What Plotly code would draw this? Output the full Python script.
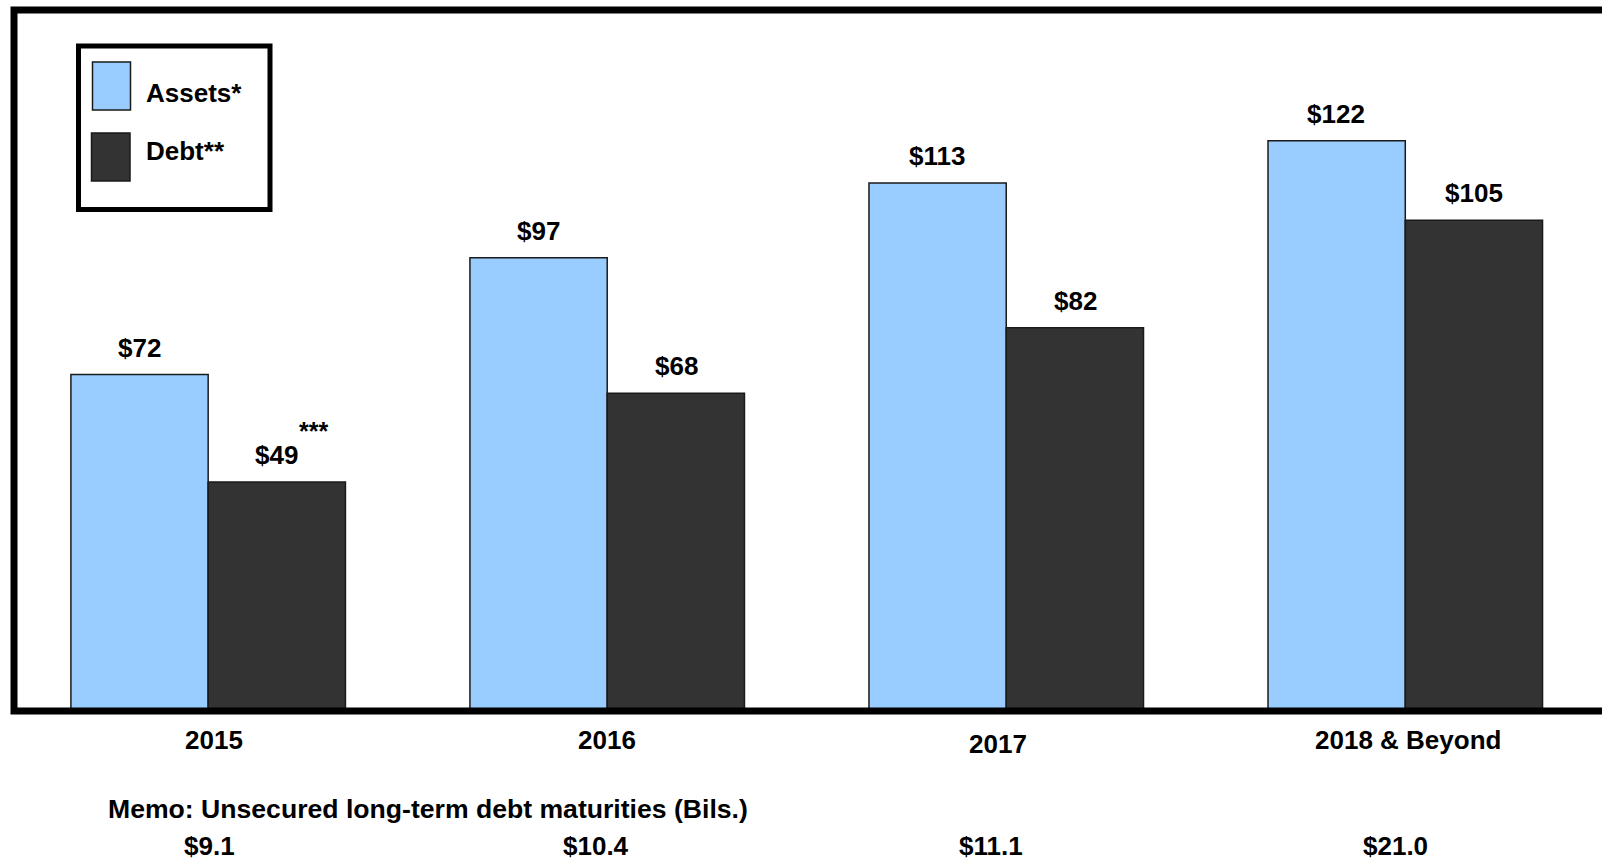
import plotly.graph_objects as go

categories = ["2015", "2016", "2017", "2018 & Beyond"]
assets = [72, 97, 113, 122]
debt = [49, 68, 82, 105]
asset_labels = ["$72", "$97", "$113", "$122"]
debt_labels = ["$49", "$68", "$82", "$105"]
memo_title = "Memo: Unsecured long-term debt maturities (Bils.)"
memo_values = ["$9.1", "$10.4", "$11.1", "$21.0"]
asset_name = "Assets*"
debt_name = "Debt**"
footnote_mark = "***"

ASSET_COLOR = "#99CCFF"
DEBT_COLOR = "#333333"
FONT = "Liberation Sans, Arial, sans-serif"

W, H = 1602, 860
ML, MR, MT, MB = 14, 0, 10, 149
PW = W - ML - MR
PH = H - MT - MB

# small per-category label nudges (pixels), layout only
cat_dx = [6, 0, -8, 3]
cat_dy = [0, 0, -4, 0]
memo_dx = [1, -11, -15, -10]


def px(x):
    return (x - ML) / PW


def py(y):
    return (H - MB - y) / PH


fig = go.Figure()
fig.add_trace(go.Bar(x=categories, y=assets, name=asset_name,
                     marker=dict(color=ASSET_COLOR, line=dict(color="#1a1a1a", width=1.5))))
fig.add_trace(go.Bar(x=categories, y=debt, name=debt_name,
                     marker=dict(color=DEBT_COLOR, line=dict(color="#1a1a1a", width=1.5))))

bold = dict(size=26, color="black", family=FONT, weight="bold")
annotations = []
bar_px = 68.8  # half group offset in pixels
for i, c in enumerate(categories):
    annotations.append(dict(x=i, y=assets[i], xref="x", yref="y", text=asset_labels[i],
                            showarrow=False, xshift=-bar_px, yshift=27, yanchor="middle", font=bold))
    annotations.append(dict(x=i, y=debt[i], xref="x", yref="y", text=debt_labels[i],
                            showarrow=False, xshift=bar_px, yshift=27, yanchor="middle", font=bold))
    annotations.append(dict(x=i, y=0, xref="x", yref="paper", text=c,
                            showarrow=False, xshift=cat_dx[i], yshift=-29 + cat_dy[i],
                            yanchor="middle", font=bold))
    annotations.append(dict(x=i, y=0, xref="x", yref="paper", text=memo_values[i],
                            showarrow=False, xshift=memo_dx[i], yshift=-135, yanchor="middle", font=bold))

annotations.append(dict(x=0, y=debt[0], xref="x", yref="y", text=footnote_mark,
                        showarrow=False, xshift=bar_px + 37, yshift=51, yanchor="middle",
                        font=dict(size=25, color="black", family=FONT, weight="bold")))
annotations.append(dict(x=px(106), y=py(809), xref="paper", yref="paper", text=memo_title,
                        showarrow=False, xanchor="left", yanchor="middle",
                        font=dict(size=26.6, color="black", family=FONT, weight="bold")))
annotations.append(dict(x=px(144), y=py(93), xref="paper", yref="paper", text=asset_name,
                        showarrow=False, xanchor="left", yanchor="middle", font=bold))
annotations.append(dict(x=px(144), y=py(151), xref="paper", yref="paper", text=debt_name,
                        showarrow=False, xanchor="left", yanchor="middle", font=bold))

shapes = [
    # chart frame
    dict(type="rect", xref="paper", yref="paper", x0=0, x1=1.05, y0=0, y1=1,
         line=dict(color="black", width=7), layer="above"),
    # legend box
    dict(type="rect", xref="paper", yref="paper", x0=px(78.5), x1=px(270), y0=py(209.5), y1=py(46),
         line=dict(color="black", width=5), fillcolor="white", layer="above"),
    dict(type="rect", xref="paper", yref="paper", x0=px(92.5), x1=px(130.5), y0=py(110), y1=py(62),
         line=dict(color="#1a1a1a", width=1.5), fillcolor=ASSET_COLOR, layer="above"),
    dict(type="rect", xref="paper", yref="paper", x0=px(91.5), x1=px(130), y0=py(181), y1=py(133),
         line=dict(color="#1a1a1a", width=1.5), fillcolor=DEBT_COLOR, layer="above"),
]

fig.update_layout(
    width=W, height=H,
    margin=dict(l=ML, r=MR, t=MT, b=MB, pad=0),
    barmode="group", bargap=0.312, bargroupgap=0,
    paper_bgcolor="white", plot_bgcolor="white",
    showlegend=False,
    annotations=annotations, shapes=shapes,
    xaxis=dict(range=[-0.4866, 3.493], showticklabels=False, showgrid=False,
               zeroline=False, showline=False, ticks=""),
    yaxis=dict(range=[0, 150], showticklabels=False, showgrid=False,
               zeroline=False, showline=False, ticks=""),
    font=dict(family=FONT),
)

fig.write_html("out.html", config={"displayModeBar": False},
               post_script="document.body.style.margin='0';document.body.style.overflow='hidden';")
